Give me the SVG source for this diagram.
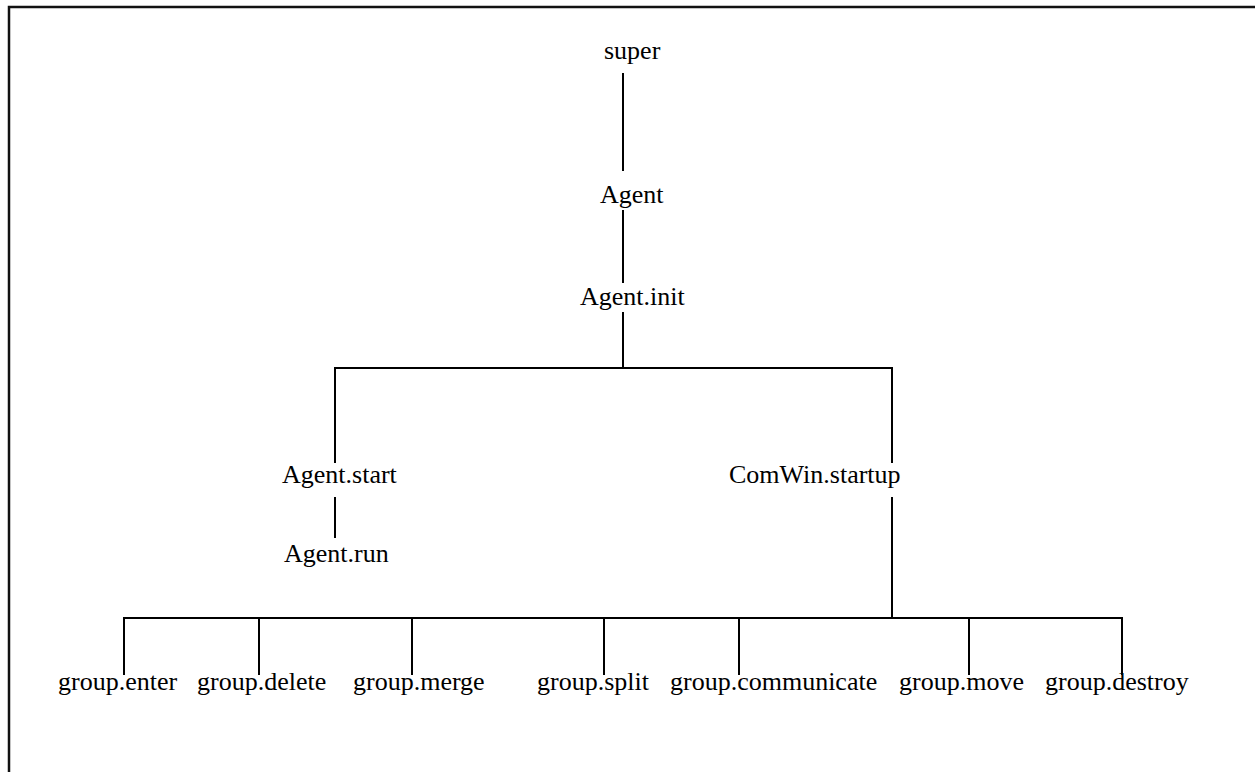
<svg xmlns="http://www.w3.org/2000/svg" width="1255" height="772" viewBox="0 0 1255 772">
<style>
text{font-family:"Liberation Serif","Times New Roman",serif;font-size:26px;fill:#000}
.c{stroke:#000;stroke-width:2;fill:none}
.b{stroke:#111;stroke-width:2.5;fill:none}
</style>
<rect width="1255" height="772" fill="#fff"/>
<path class="b" d="M9,772 V7 H1255"/>
<g id="connectors">
<path class="c" d="M623,73 V171"/>
<path class="c" d="M623,210 V283"/>
<path class="c" d="M623,312 V368"/>
<path class="c" d="M335,463 V368 H892 V463"/>
<path class="c" d="M335,497 V538"/>
<path class="c" d="M892,497 V618"/>
<path class="c" d="M124,675 V618 H1122 V675"/>
<path class="c" d="M259,618 V675"/>
<path class="c" d="M412,618 V675"/>
<path class="c" d="M604,618 V675"/>
<path class="c" d="M739,618 V675"/>
<path class="c" d="M969,618 V675"/>
</g>
<g id="super"><text x="604" y="59">super</text></g>
<g id="agent"><text x="600" y="203">Agent</text></g>
<g id="agent-init"><text x="580" y="305">Agent.init</text></g>
<g id="agent-start"><text x="282" y="483">Agent.start</text></g>
<g id="comwin-startup"><text x="729" y="483">ComWin.startup</text></g>
<g id="agent-run"><text x="284" y="562">Agent.run</text></g>
<g id="group-enter"><text x="58" y="690">group.enter</text></g>
<g id="group-delete"><text x="197" y="690">group.delete</text></g>
<g id="group-merge"><text x="353" y="690">group.merge</text></g>
<g id="group-split"><text x="537" y="690">group.split</text></g>
<g id="group-communicate"><text x="670" y="690">group.communicate</text></g>
<g id="group-move"><text x="899" y="690">group.move</text></g>
<g id="group-destroy"><text x="1045" y="690">group.destroy</text></g>
</svg>
